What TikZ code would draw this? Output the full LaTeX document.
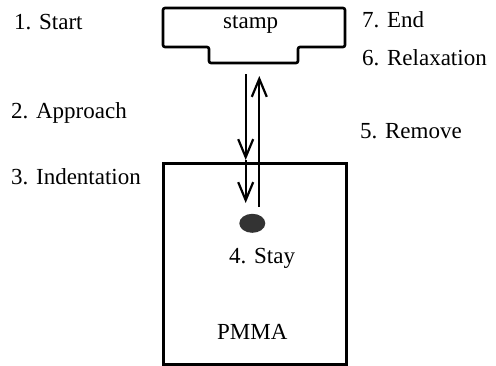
\documentclass[tikz,border=0pt]{standalone}
\usepackage{fontspec}
\setmainfont{Liberation Serif}
\usetikzlibrary{arrows.meta,shapes.geometric}
\begin{document}
\begin{tikzpicture}[x=1pt,y=-1pt,
  lbl/.style={anchor=base west,inner sep=0pt,font=\fontsize{23}{28}\selectfont},
  outline/.style={draw,line width=2.6pt},
  arr/.style={line width=2.2pt,-{Straight Barb[length=18pt,width=15pt,line width=2.2pt]}}]
\useasboundingbox (0,0) rectangle (496,365);
% stamp
\draw[outline,rounded corners=2pt] (163,8) -- (345,8) -- (345,47) -- (298,47) -- (298,63) -- (209,63) -- (209,47) -- (163,47) -- cycle;
\node[lbl] (stamp) at (223,28) {stamp};
% PMMA block
\node[outline,rectangle,minimum width=183pt,minimum height=201pt,anchor=north west,inner sep=0pt] (pmma) at (162,162) {};
\node[lbl] (pmmalbl) at (217,339) {PMMA};
% indenter tip
\node[ellipse,fill=black!80,minimum width=26pt,minimum height=19pt,inner sep=0pt] (dot) at (252.3,223.3) {};
\node[lbl] (stay) at (229,263) {4. Stay};
% arrows
\coordinate (a0) at (245.7,74);
\coordinate (a1) at (245.7,160);
\coordinate (a2) at (245.7,203);
\draw[arr] (a0) -- (a1);
\draw[arr] (a1) -- (a2);
\coordinate (b0) at (259.3,207);
\coordinate (b1) at (259.3,76);
\draw[arr] (b0) -- (b1);
% step labels
\node[lbl] (s1) at (14,29) {1. Start};
\node[lbl] (s2) at (11,118) {2. Approach};
\node[lbl] (s3) at (11,184) {3. Indentation};
\node[lbl] (s7) at (362,27) {7. End};
\node[lbl] (s6) at (362,65) {6. Relaxation};
\node[lbl] (s5) at (360,138) {5. Remove};
\end{tikzpicture}
\end{document}
